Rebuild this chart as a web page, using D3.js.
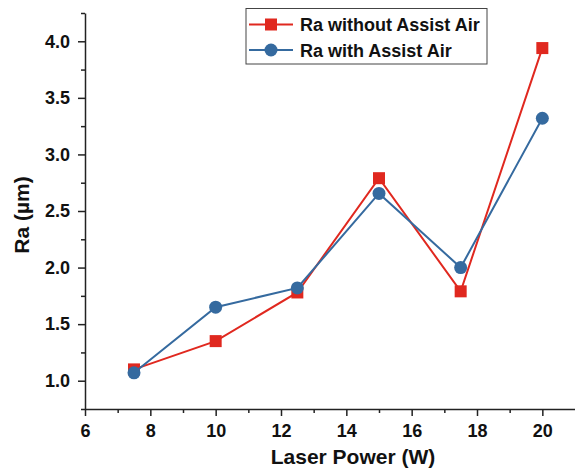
<!DOCTYPE html>
<html>
    <head>
        <meta charset="utf-8">
        <style>
            html, body {
                margin: 0px;
                padding: 0px;
                background-color: #fff;
                font-family: "Liberation Sans", Arial, sans-serif;
            }

            svg text {
                font-weight: bold;
                fill: #111;
            }

            .axis text {
                font-size: 18px;
                font-family: "Liberation Sans", Arial, sans-serif;
            }

            .axis path, .axis line {
                stroke: #222;
                stroke-width: 1.5px;
            }
        </style>
        <script src="https://cdn.jsdelivr.net/npm/d3@7"></script>
    </head>
    <body>
        <div id="main"></div>

        <script>
            var power = [7.5, 10, 12.5, 15, 17.5, 20];
            var raWithout = [1.10, 1.35, 1.78, 2.79, 1.79, 3.94];
            var raWith = [1.07, 1.65, 1.82, 2.655, 2.00, 3.32];
            var xTicks = [6, 8, 10, 12, 14, 16, 18, 20];
            var yTicks = [1.0, 1.5, 2.0, 2.5, 3.0, 3.5, 4.0];

            var width = 575;
            var height = 473;
            var red = "#e0281f";
            var blue = "#356a9f";

            var svg = d3.select("#main")
                        .append("svg")
                        .attr("width", width)
                        .attr("height", height);

            var x = d3.scaleLinear().domain([6, 21]).range([85, 575]);
            var y = d3.scaleLinear().domain([0.75, 4.25]).range([409, 13]);

            // minor ticks
            var xMinor = d3.range(7, 21, 2);
            var yMinor = d3.range(0.75, 4.26, 0.5);

            svg.append("g")
                .attr("class", "axis")
                .attr("transform", "translate(0,409)")
                .call(d3.axisBottom(x).tickValues(xMinor).tickSize(4).tickFormat(""))
                .select(".domain").remove();

            svg.append("g")
                .attr("class", "axis")
                .attr("transform", "translate(85,0)")
                .call(d3.axisLeft(y).tickValues(yMinor).tickSize(4).tickFormat(""))
                .select(".domain").remove();

            svg.append("g")
                .attr("class", "axis")
                .attr("transform", "translate(0,409)")
                .call(d3.axisBottom(x).tickValues(xTicks).tickSize(7).tickSizeOuter(0).tickPadding(8).tickFormat(d3.format("d")));

            svg.append("g")
                .attr("class", "axis")
                .attr("transform", "translate(85,0)")
                .call(d3.axisLeft(y).tickValues(yTicks).tickSize(7).tickSizeOuter(0).tickPadding(8).tickFormat(d3.format(".1f")));

            svg.append("text")
                .attr("x", 353)
                .attr("y", 464)
                .style("text-anchor", "middle")
                .style("font-size", "21px")
                .text("Laser Power (W)");

            svg.append("text")
                .attr("transform", "translate(29,215) rotate(-90)")
                .style("text-anchor", "middle")
                .style("font-size", "21px")
                .text("Ra (µm)");

            function series(values, color, shape) {
                var pts = power.map(function(p, i) { return [x(p), y(values[i])]; });
                svg.append("path")
                    .attr("d", d3.line()(pts))
                    .attr("fill", "none")
                    .attr("stroke", color)
                    .attr("stroke-width", 2);
                var g = svg.append("g");
                if (shape === "square") {
                    g.selectAll("rect").data(pts).enter().append("rect")
                        .attr("x", function(d) { return d[0] - 6; })
                        .attr("y", function(d) { return d[1] - 6; })
                        .attr("width", 12)
                        .attr("height", 12)
                        .attr("fill", color);
                } else {
                    g.selectAll("circle").data(pts).enter().append("circle")
                        .attr("cx", function(d) { return d[0]; })
                        .attr("cy", function(d) { return d[1]; })
                        .attr("r", 6.5)
                        .attr("fill", color);
                }
            }

            series(raWithout, red, "square");
            series(raWith, blue, "circle");

            // legend
            var legend = svg.append("g");
            legend.append("rect")
                .attr("x", 246)
                .attr("y", 8.5)
                .attr("width", 241)
                .attr("height", 55.5)
                .attr("fill", "#fff")
                .attr("stroke", "#444")
                .attr("stroke-width", 1);

            var items = [
                { label: "Ra without Assist Air", color: red, shape: "square" },
                { label: "Ra with Assist Air", color: blue, shape: "circle" }
            ];

            items.forEach(function(d, i) {
                var cy = 24.5 + i * 25.5;
                legend.append("line")
                    .attr("x1", 249).attr("x2", 293)
                    .attr("y1", cy).attr("y2", cy)
                    .attr("stroke", d.color)
                    .attr("stroke-width", 2);
                if (d.shape === "square") {
                    legend.append("rect")
                        .attr("x", 265).attr("y", cy - 6)
                        .attr("width", 12).attr("height", 12)
                        .attr("fill", d.color);
                } else {
                    legend.append("circle")
                        .attr("cx", 271).attr("cy", cy)
                        .attr("r", 6.5)
                        .attr("fill", d.color);
                }
                legend.append("text")
                    .attr("x", 300)
                    .attr("y", cy + 6.5)
                    .style("font-size", "18px")
                    .text(d.label);
            });
        </script>
    </body>
</html>
